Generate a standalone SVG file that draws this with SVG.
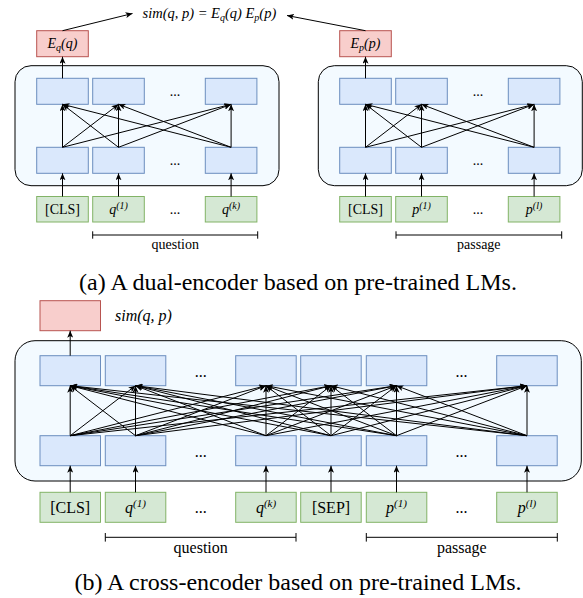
<svg xmlns="http://www.w3.org/2000/svg" width="583" height="598" viewBox="0 0 583 598">
<style>
 .enc{fill:#f3faff;stroke:#000;stroke-width:1}
 .blue{fill:#dae8fc;stroke:#6c8ebf;stroke-width:1}
 .green{fill:#d5e8d4;stroke:#82b366;stroke-width:1}
 .red{fill:#f8cecc;stroke:#b85450;stroke-width:1}
 .t{font-family:"Liberation Serif","Times New Roman",serif;fill:#000}
 .i{font-style:italic}
 .c{text-anchor:middle}
 .s14{font-size:14px}
 .s16{font-size:16px}
 .edges line{stroke:#000;stroke-width:1;marker-end:url(#ah)}
 .br{stroke:#000;stroke-width:1;fill:none}
</style>
<defs>
 <marker id="ah" markerUnits="userSpaceOnUse" markerWidth="8" markerHeight="6" refX="7" refY="3" orient="auto">
  <path d="M0,0 L7,3 L0,6 L1.8,3 z" fill="#000"/>
 </marker>
</defs>
<rect x="0" y="0" width="583" height="598" fill="#fff"/>

<!-- (a) dual encoder -->
<g id="a-enc-q"><rect class="enc" x="15" y="65.7" width="264" height="120" rx="16" ry="16"/></g>
<g id="a-enc-p"><rect class="enc" x="318.3" y="65.7" width="264" height="120" rx="16" ry="16"/></g>

<g id="a-eq"><rect class="red" x="36.7" y="30.7" width="51.6" height="26"/>
 <text class="t i c s14" x="62.5" y="48">E<tspan font-size="10" dy="3">q</tspan><tspan dy="-3">(q)</tspan></text></g>
<g id="a-ep"><rect class="red" x="339.7" y="30.7" width="51.6" height="26"/>
 <text class="t i c s14" x="365.5" y="48">E<tspan font-size="10" dy="3">p</tspan><tspan dy="-3">(p)</tspan></text></g>

<g id="a-q-top1"><rect class="blue" x="36.7" y="78.3" width="51.6" height="26"/></g>
<g id="a-q-top2"><rect class="blue" x="92.7" y="78.3" width="51.6" height="26"/></g>
<g id="a-q-top3"><rect class="blue" x="205.3" y="78.3" width="51.6" height="26"/></g>
<g id="a-q-bot1"><rect class="blue" x="36.7" y="147.3" width="51.6" height="26"/></g>
<g id="a-q-bot2"><rect class="blue" x="92.7" y="147.3" width="51.6" height="26"/></g>
<g id="a-q-bot3"><rect class="blue" x="205.3" y="147.3" width="51.6" height="26"/></g>
<g id="a-p-top1"><rect class="blue" x="339.7" y="78.3" width="51.6" height="26"/></g>
<g id="a-p-top2"><rect class="blue" x="395.7" y="78.3" width="51.6" height="26"/></g>
<g id="a-p-top3"><rect class="blue" x="508.3" y="78.3" width="51.6" height="26"/></g>
<g id="a-p-bot1"><rect class="blue" x="339.7" y="147.3" width="51.6" height="26"/></g>
<g id="a-p-bot2"><rect class="blue" x="395.7" y="147.3" width="51.6" height="26"/></g>
<g id="a-p-bot3"><rect class="blue" x="508.3" y="147.3" width="51.6" height="26"/></g>

<g id="a-in-cls-q"><rect class="green" x="36.7" y="196.5" width="51.6" height="25.5"/>
 <text class="t c s14" x="62.5" y="214">[CLS]</text></g>
<g id="a-in-q1"><rect class="green" x="92.7" y="196.5" width="51.6" height="25.5"/>
 <text class="t i c s14" x="118.5" y="214">q<tspan font-size="10" dy="-5">(1)</tspan></text></g>
<g id="a-in-qk"><rect class="green" x="205.3" y="196.5" width="51.6" height="25.5"/>
 <text class="t i c s14" x="231.1" y="214">q<tspan font-size="10" dy="-5">(k)</tspan></text></g>
<g id="a-in-cls-p"><rect class="green" x="339.7" y="196.5" width="51.6" height="25.5"/>
 <text class="t c s14" x="365.5" y="214">[CLS]</text></g>
<g id="a-in-p1"><rect class="green" x="395.7" y="196.5" width="51.6" height="25.5"/>
 <text class="t i c s14" x="421.5" y="214">p<tspan font-size="10" dy="-5">(1)</tspan></text></g>
<g id="a-in-pl"><rect class="green" x="508.3" y="196.5" width="51.6" height="25.5"/>
 <text class="t i c s14" x="534.1" y="214">p<tspan font-size="10" dy="-5">(l)</tspan></text></g>

<g id="a-dots">
 <text class="t c s14" x="175" y="96">...</text>
 <text class="t c s14" x="175" y="165">...</text>
 <text class="t c s14" x="175" y="213.5">...</text>
 <text class="t c s14" x="478" y="96">...</text>
 <text class="t c s14" x="478" y="165">...</text>
 <text class="t c s14" x="478" y="213.5">...</text>
</g>

<g id="a-sim"><text class="t i s14" x="142.5" y="18" style="font-size:14.5px">sim(q, p) = E<tspan font-size="10" dy="3">q</tspan><tspan dy="-3">(q) E</tspan><tspan font-size="10" dy="3">p</tspan><tspan dy="-3">(p)</tspan></text></g>

<g id="a-question"><path class="br" d="M92.7,235 H257.7 M92.7,231.3 V238.7 M257.7,231.3 V238.7"/>
 <text class="t c s14" x="175.2" y="249">question</text></g>
<g id="a-passage"><path class="br" d="M396,235 H561.7 M396,231.3 V238.7 M561.7,231.3 V238.7"/>
 <text class="t c s14" x="478.8" y="249">passage</text></g>

<g id="a-caption"><text class="t c" x="298" y="289.5" font-size="24">(a) A dual-encoder based on pre-trained LMs.</text></g>

<!-- (b) cross encoder -->
<g id="b-enc"><rect class="enc" x="15" y="340.7" width="566.3" height="140.3" rx="20" ry="20"/></g>
<g id="b-out"><rect class="red" x="40" y="300.7" width="60.5" height="30"/></g>
<g id="b-sim"><text class="t i s16" x="115" y="321">sim(q, p)</text></g>

<g id="b-top1"><rect class="blue" x="40" y="355.7" width="60.5" height="30"/></g>
<g id="b-top2"><rect class="blue" x="105.3" y="355.7" width="60.5" height="30"/></g>
<g id="b-top3"><rect class="blue" x="235.7" y="355.7" width="60.5" height="30"/></g>
<g id="b-top4"><rect class="blue" x="300.7" y="355.7" width="60.5" height="30"/></g>
<g id="b-top5"><rect class="blue" x="366.3" y="355.7" width="60.5" height="30"/></g>
<g id="b-top6"><rect class="blue" x="496.7" y="355.7" width="60.5" height="30"/></g>
<g id="b-bot1"><rect class="blue" x="40" y="435.7" width="60.5" height="30"/></g>
<g id="b-bot2"><rect class="blue" x="105.3" y="435.7" width="60.5" height="30"/></g>
<g id="b-bot3"><rect class="blue" x="235.7" y="435.7" width="60.5" height="30"/></g>
<g id="b-bot4"><rect class="blue" x="300.7" y="435.7" width="60.5" height="30"/></g>
<g id="b-bot5"><rect class="blue" x="366.3" y="435.7" width="60.5" height="30"/></g>
<g id="b-bot6"><rect class="blue" x="496.7" y="435.7" width="60.5" height="30"/></g>

<g id="b-in-cls"><rect class="green" x="40" y="492.3" width="60.5" height="30"/>
 <text class="t c s16" x="70.2" y="513">[CLS]</text></g>
<g id="b-in-q1"><rect class="green" x="105.3" y="492.3" width="60.5" height="30"/>
 <text class="t i c s16" x="135.5" y="513">q<tspan font-size="11" dy="-6">(1)</tspan></text></g>
<g id="b-in-qk"><rect class="green" x="235.7" y="492.3" width="60.5" height="30"/>
 <text class="t i c s16" x="266" y="513">q<tspan font-size="11" dy="-6">(k)</tspan></text></g>
<g id="b-in-sep"><rect class="green" x="300.7" y="492.3" width="60.5" height="30"/>
 <text class="t c s16" x="331" y="513">[SEP]</text></g>
<g id="b-in-p1"><rect class="green" x="366.3" y="492.3" width="60.5" height="30"/>
 <text class="t i c s16" x="396.5" y="513">p<tspan font-size="11" dy="-6">(1)</tspan></text></g>
<g id="b-in-pl"><rect class="green" x="496.7" y="492.3" width="60.5" height="30"/>
 <text class="t i c s16" x="527" y="513">p<tspan font-size="11" dy="-6">(l)</tspan></text></g>

<g id="b-dots">
 <text class="t c s16" x="200.7" y="376.5">...</text>
 <text class="t c s16" x="200.7" y="457">...</text>
 <text class="t c s16" x="200.7" y="513">...</text>
 <text class="t c s16" x="461.5" y="376.5">...</text>
 <text class="t c s16" x="461.5" y="457">...</text>
 <text class="t c s16" x="461.5" y="513">...</text>
</g>

<g id="b-question"><path class="br" d="M105.3,537.3 H296 M105.3,533 V541.6 M296,533 V541.6"/>
 <text class="t c s16" x="200.7" y="553">question</text></g>
<g id="b-passage"><path class="br" d="M366.3,537.3 H557.3 M366.3,533 V541.6 M557.3,533 V541.6"/>
 <text class="t c s16" x="461.8" y="553">passage</text></g>

<g id="b-caption"><text class="t c" x="298" y="589.5" font-size="24">(b) A cross-encoder based on pre-trained LMs.</text></g>

<!-- connectors -->
<g id="connectors" class="edges">
 <!-- (a) question side -->
 <line x1="62.5" y1="78.3" x2="62.5" y2="56.7"/>
 <line x1="62.5" y1="30.7" x2="132.5" y2="13.5"/>
 <line x1="62.5" y1="196.5" x2="62.5" y2="173.3"/>
 <line x1="118.5" y1="196.5" x2="118.5" y2="173.3"/>
 <line x1="231.1" y1="196.5" x2="231.1" y2="173.3"/>
 <line x1="62.5" y1="147.3" x2="62.5" y2="104.3"/>
 <line x1="62.5" y1="147.3" x2="118.5" y2="104.3"/>
 <line x1="62.5" y1="147.3" x2="231.1" y2="104.3"/>
 <line x1="118.5" y1="147.3" x2="62.5" y2="104.3"/>
 <line x1="118.5" y1="147.3" x2="118.5" y2="104.3"/>
 <line x1="118.5" y1="147.3" x2="231.1" y2="104.3"/>
 <line x1="231.1" y1="147.3" x2="62.5" y2="104.3"/>
 <line x1="231.1" y1="147.3" x2="118.5" y2="104.3"/>
 <line x1="231.1" y1="147.3" x2="231.1" y2="104.3"/>
 <!-- (a) passage side -->
 <line x1="365.5" y1="78.3" x2="365.5" y2="56.7"/>
 <line x1="365.5" y1="30.7" x2="287" y2="15.5"/>
 <line x1="365.5" y1="196.5" x2="365.5" y2="173.3"/>
 <line x1="421.5" y1="196.5" x2="421.5" y2="173.3"/>
 <line x1="534.1" y1="196.5" x2="534.1" y2="173.3"/>
 <line x1="365.5" y1="147.3" x2="365.5" y2="104.3"/>
 <line x1="365.5" y1="147.3" x2="421.5" y2="104.3"/>
 <line x1="365.5" y1="147.3" x2="534.1" y2="104.3"/>
 <line x1="421.5" y1="147.3" x2="365.5" y2="104.3"/>
 <line x1="421.5" y1="147.3" x2="421.5" y2="104.3"/>
 <line x1="421.5" y1="147.3" x2="534.1" y2="104.3"/>
 <line x1="534.1" y1="147.3" x2="365.5" y2="104.3"/>
 <line x1="534.1" y1="147.3" x2="421.5" y2="104.3"/>
 <line x1="534.1" y1="147.3" x2="534.1" y2="104.3"/>
 <!-- (b) -->
 <line x1="70.2" y1="355.7" x2="70.2" y2="330.7"/>
 <line x1="70.2" y1="492.3" x2="70.2" y2="465.7"/>
 <line x1="135.5" y1="492.3" x2="135.5" y2="465.7"/>
 <line x1="266" y1="492.3" x2="266" y2="465.7"/>
 <line x1="331" y1="492.3" x2="331" y2="465.7"/>
 <line x1="396.5" y1="492.3" x2="396.5" y2="465.7"/>
 <line x1="527" y1="492.3" x2="527" y2="465.7"/>

 <line x1="70.2" y1="435.7" x2="70.2" y2="385.7"/>
 <line x1="70.2" y1="435.7" x2="135.5" y2="385.7"/>
 <line x1="70.2" y1="435.7" x2="266" y2="385.7"/>
 <line x1="70.2" y1="435.7" x2="331" y2="385.7"/>
 <line x1="70.2" y1="435.7" x2="396.5" y2="385.7"/>
 <line x1="70.2" y1="435.7" x2="527" y2="385.7"/>

 <line x1="135.5" y1="435.7" x2="70.2" y2="385.7"/>
 <line x1="135.5" y1="435.7" x2="135.5" y2="385.7"/>
 <line x1="135.5" y1="435.7" x2="266" y2="385.7"/>
 <line x1="135.5" y1="435.7" x2="331" y2="385.7"/>
 <line x1="135.5" y1="435.7" x2="396.5" y2="385.7"/>
 <line x1="135.5" y1="435.7" x2="527" y2="385.7"/>

 <line x1="266" y1="435.7" x2="70.2" y2="385.7"/>
 <line x1="266" y1="435.7" x2="135.5" y2="385.7"/>
 <line x1="266" y1="435.7" x2="266" y2="385.7"/>
 <line x1="266" y1="435.7" x2="331" y2="385.7"/>
 <line x1="266" y1="435.7" x2="396.5" y2="385.7"/>
 <line x1="266" y1="435.7" x2="527" y2="385.7"/>

 <line x1="331" y1="435.7" x2="70.2" y2="385.7"/>
 <line x1="331" y1="435.7" x2="135.5" y2="385.7"/>
 <line x1="331" y1="435.7" x2="266" y2="385.7"/>
 <line x1="331" y1="435.7" x2="331" y2="385.7"/>
 <line x1="331" y1="435.7" x2="396.5" y2="385.7"/>
 <line x1="331" y1="435.7" x2="527" y2="385.7"/>

 <line x1="396.5" y1="435.7" x2="70.2" y2="385.7"/>
 <line x1="396.5" y1="435.7" x2="135.5" y2="385.7"/>
 <line x1="396.5" y1="435.7" x2="266" y2="385.7"/>
 <line x1="396.5" y1="435.7" x2="331" y2="385.7"/>
 <line x1="396.5" y1="435.7" x2="396.5" y2="385.7"/>
 <line x1="396.5" y1="435.7" x2="527" y2="385.7"/>

 <line x1="527" y1="435.7" x2="70.2" y2="385.7"/>
 <line x1="527" y1="435.7" x2="135.5" y2="385.7"/>
 <line x1="527" y1="435.7" x2="266" y2="385.7"/>
 <line x1="527" y1="435.7" x2="331" y2="385.7"/>
 <line x1="527" y1="435.7" x2="396.5" y2="385.7"/>
 <line x1="527" y1="435.7" x2="527" y2="385.7"/>
</g>
</svg>
